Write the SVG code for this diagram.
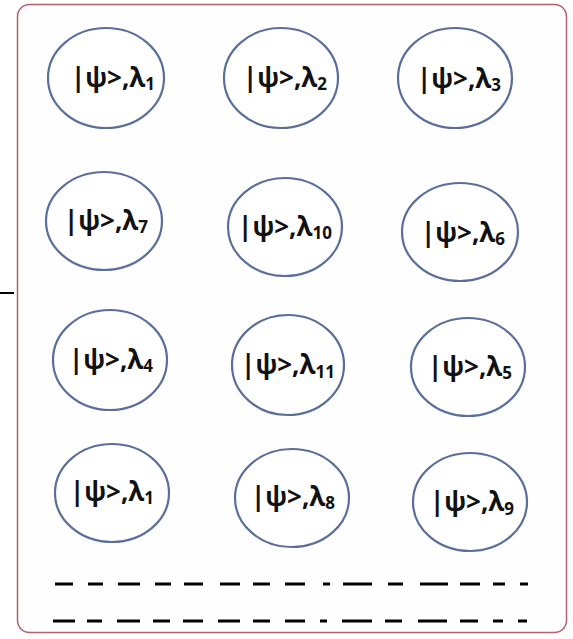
<svg xmlns="http://www.w3.org/2000/svg" width="573" height="639" viewBox="0 0 573 639">
<style>
.frame{fill:#fffefe;stroke:#b4606c;stroke-width:1.5}
.node ellipse{fill:#ffffff;stroke:#5a6e9c;stroke-width:2.2}
.node text{font-family:"Open Sans","Liberation Sans",sans-serif;font-weight:bold;font-size:26px;fill:#111;text-anchor:middle}
.sub{font-size:17px}
.dash{stroke:#000;stroke-width:3}
</style>
<rect width="573" height="639" fill="#ffffff"/>
<rect class="frame" x="17.5" y="4.5" width="549" height="628" rx="12"/>
<line x1="0" y1="293" x2="14" y2="293" stroke="#000" stroke-width="2"/>
<g id="n1" class="node"><ellipse cx="106" cy="78" rx="58" ry="50"/><text x="113" y="87">|ψ&gt;,λ<tspan class="sub" dy="3">1</tspan></text></g>
<g id="n2" class="node"><ellipse cx="281" cy="78" rx="57" ry="50"/><text x="285" y="87">|ψ&gt;,λ<tspan class="sub" dy="3">2</tspan></text></g>
<g id="n3" class="node"><ellipse cx="455" cy="78" rx="57" ry="50"/><text x="459" y="88">|ψ&gt;,λ<tspan class="sub" dy="3">3</tspan></text></g>
<g id="n4" class="node"><ellipse cx="104" cy="221" rx="58" ry="49"/><text x="106" y="230">|ψ&gt;,λ<tspan class="sub" dy="3">7</tspan></text></g>
<g id="n5" class="node"><ellipse cx="285" cy="227" rx="57" ry="49"/><text x="285" y="236">|ψ&gt;,λ<tspan class="sub" dy="3">10</tspan></text></g>
<g id="n6" class="node"><ellipse cx="460" cy="232" rx="58" ry="49"/><text x="463" y="242">|ψ&gt;,λ<tspan class="sub" dy="3">6</tspan></text></g>
<g id="n7" class="node"><ellipse cx="110" cy="360" rx="57" ry="50"/><text x="111" y="369">|ψ&gt;,λ<tspan class="sub" dy="3">4</tspan></text></g>
<g id="n8" class="node"><ellipse cx="288" cy="365" rx="56" ry="50"/><text x="288" y="374">|ψ&gt;,λ<tspan class="sub" dy="4">11</tspan></text></g>
<g id="n9" class="node"><ellipse cx="468" cy="367" rx="57" ry="49"/><text x="470" y="376">|ψ&gt;,λ<tspan class="sub" dy="3">5</tspan></text></g>
<g id="n10" class="node"><ellipse cx="112" cy="493" rx="57" ry="49"/><text x="112" y="501">|ψ&gt;,λ<tspan class="sub" dy="3">1</tspan></text></g>
<g id="n11" class="node"><ellipse cx="292" cy="498" rx="57" ry="49"/><text x="293" y="506">|ψ&gt;,λ<tspan class="sub" dy="3">8</tspan></text></g>
<g id="n12" class="node"><ellipse cx="470" cy="502" rx="57" ry="49"/><text x="472" y="511">|ψ&gt;,λ<tspan class="sub" dy="4">9</tspan></text></g>
<g id="connectors">
<path class="dash" d="M55 584h18M88 584h15M118 584h22M155 584h16M184 584h19M220 584h20M253 584h17M285 584h20M323 584h7M343 584h29M388 584h15M420 584h28M460 584h20M493 584h12M520 584h8"/>
<path class="dash" d="M53 621h22M87 621h15M117 621h23M153 621h17M183 621h20M218 621h22M253 621h17M285 621h20M320 621h7M342 621h30M385 621h17M418 621h29M460 621h18M493 621h10M518 621h9"/>
</g>
</svg>
